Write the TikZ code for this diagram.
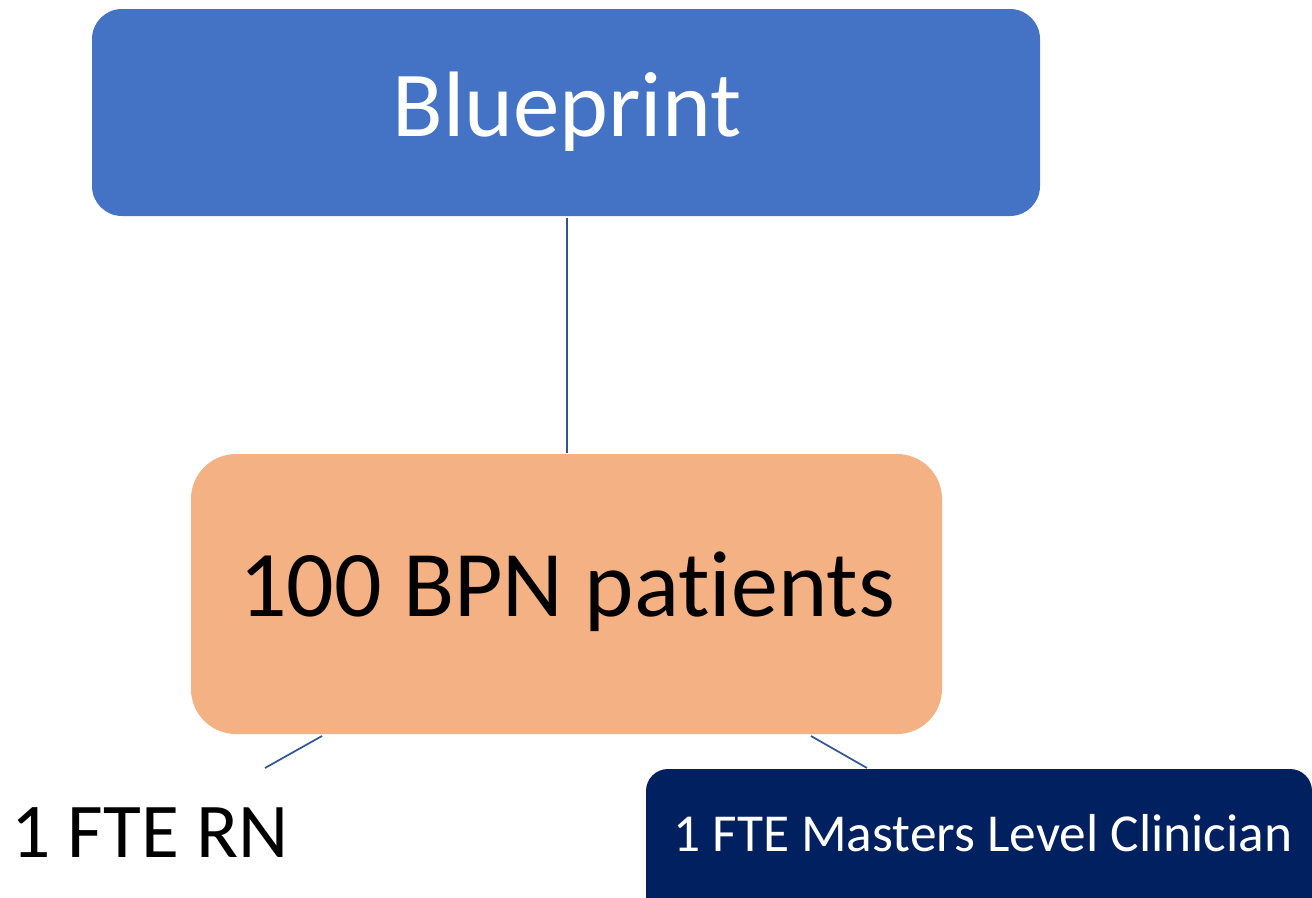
\documentclass[tikz,border=0pt]{standalone}
\usepackage{fontspec}
\setmainfont[Ligatures=NoCommon]{Carlito}
\definecolor{bpblue}{HTML}{4472C4}
\definecolor{bporange}{HTML}{F4B183}
\definecolor{bpnavy}{HTML}{002060}
\definecolor{bpline}{HTML}{2F5597}
\begin{document}
\begin{tikzpicture}[x=1pt,y=-1pt,
  conn/.style={draw=bpline,line width=1.7pt},
  boxa/.style={fill=bpblue,rounded corners=30pt},
  boxb/.style={fill=bporange,rounded corners=45pt},
  boxc/.style={fill=bpnavy,rounded corners=22pt}]
\useasboundingbox (0,0) rectangle (1312,897);
\fill[boxa] (92,9) rectangle (1040,216);
\node[text=white,font=\fontsize{93}{100}\selectfont] (bp) at (567,112) {Blueprint};
\coordinate (bpb) at (567,218);
\fill[boxb] (191,454) rectangle (942,734);
\node[text=black,font=\fontsize{94}{104}\selectfont] (pat) at (567,592) {100 BPN patients};
\coordinate (patt) at (567,453);
\coordinate (patl) at (322,736);
\coordinate (patr) at (811,736);
\fill[boxc] (646,769) rectangle (1312,930);
\node[text=white,font=\fontsize{53.4}{60}\selectfont] (mlc) at (983,833) {1 FTE Masters Level Clinician};
\node[text=black,font=\fontsize{77.5}{86}\selectfont] (rn) at (150,833) {1 FTE RN};
\coordinate (rnt) at (265,768);
\coordinate (mlct) at (867,768);
\draw[conn] (bpb) -- (patt);
\draw[conn] (patl) -- (rnt);
\draw[conn] (patr) -- (mlct);
\end{tikzpicture}
\end{document}
